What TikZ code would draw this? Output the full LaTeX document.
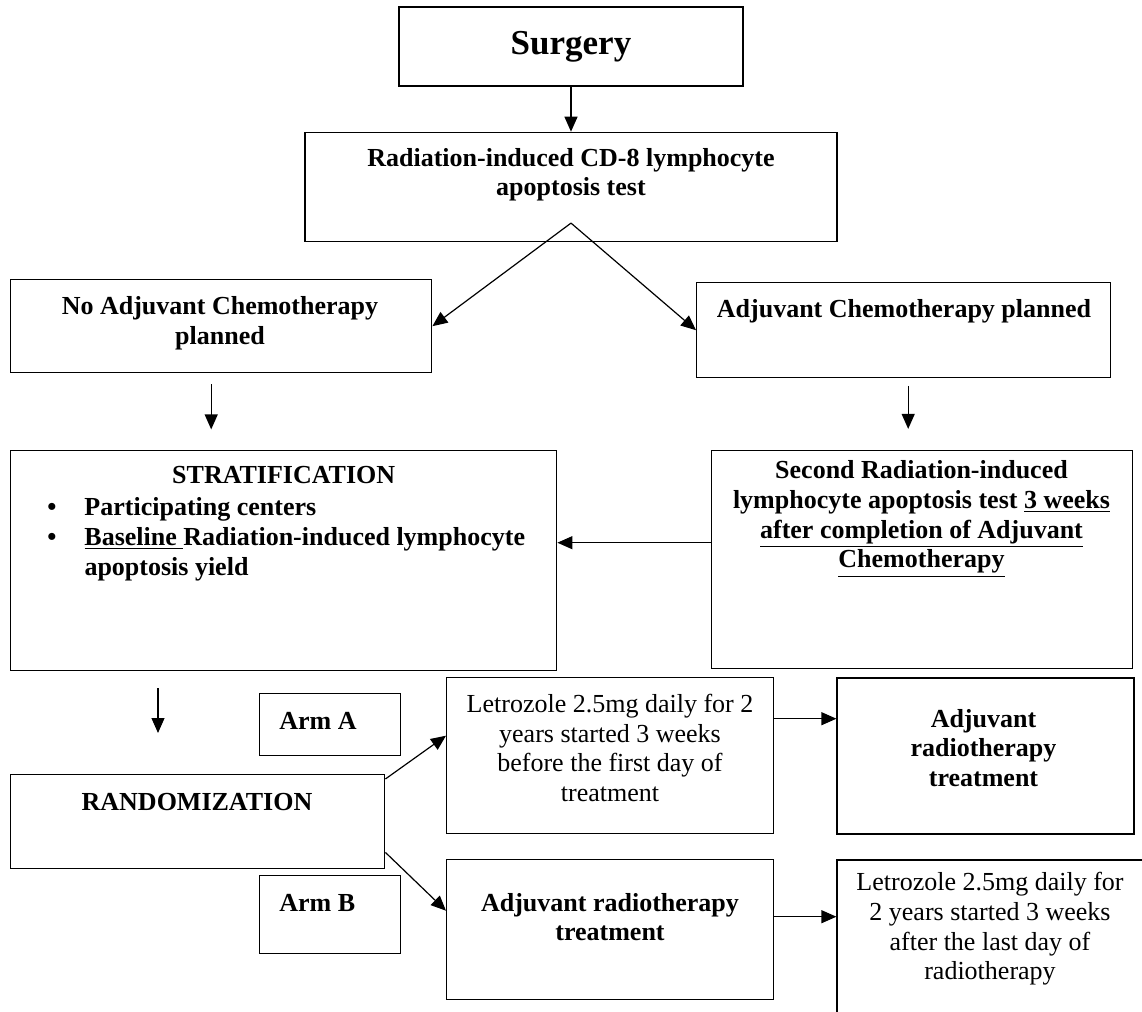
\documentclass[tikz,border=0pt]{standalone}
\usepackage{fontspec}
\setmainfont{Liberation Serif}
\usetikzlibrary{calc,arrows.meta,positioning}

\tikzset{
  box/.style={draw,line width=0.7pt,inner sep=0pt},
  thickbox/.style={box,line width=0.9pt},
  txt/.style={align=center,inner sep=0pt,font=\fontsize{13}{14.8}\selectfont\bfseries},
  plaintxt/.style={align=center,inner sep=0pt,font=\fontsize{13}{14.8}\selectfont},
  flow/.style={-{Triangle[length=7.5pt,width=6.5pt]},line width=0.6pt}
}

\begin{document}
\begin{tikzpicture}[x=0.5pt,y=-0.5pt]
  \useasboundingbox (0,0) rectangle (1142,1012);
  \clip (0,0) rectangle (1142,1012);

  % Surgery and first test
  \path (571,46.5) node[box,minimum width=172pt,minimum height=39.5pt,font=\fontsize{17.5}{20}\selectfont\bfseries] (surgery) {Surgery};
  \path (surgery.south) +(0,45) node[anchor=north,box,minimum width=266pt,minimum height=54.5pt] (test) {};
  \node[txt] (test-text) at ($(test.north)+(0,43)$) {Radiation-induced CD-8 lymphocyte\\apoptosis test};
  \coordinate (split) at ($(test.south)+(0,-19)$);
  \draw[flow] (surgery) -- (test);

  % Chemotherapy branches
  \path (10,279) node[anchor=north west,box,minimum width=210.5pt,minimum height=46.5pt] (no-chemo) {};
  \node[txt] (no-chemo-text) at (220,323) {No Adjuvant Chemotherapy\\planned};
  \path (696,282) node[anchor=north west,box,minimum width=207pt,minimum height=47.5pt] (chemo) {};
  \node[txt] (chemo-text) at (904,311) {Adjuvant Chemotherapy planned};
  \draw[flow] (split) -- (no-chemo.east);
  \draw[flow] (split) -- (chemo.west);

  % Stratification
  \path (10,450) node[anchor=north west,box,minimum width=273pt,minimum height=110pt] (strat) {};
  \node[txt] (strat-title) at ($(strat.north)+(0,25)$) {STRATIFICATION};
  \node[anchor=base west,inner sep=0pt,font=\fontsize{13}{15}\selectfont\bfseries] (strat-list) at (47,515) {%
    \begin{tabular}[t]{@{}l@{\hspace{14pt}}l@{}}
      \textbullet & Participating centers\\
      \textbullet & \underline{Baseline~}Radiation-induced lymphocyte\\
                  & apoptosis yield
    \end{tabular}};
  \path (711,450) node[anchor=north west,box,minimum width=210.5pt,minimum height=109pt] (second) {};
  \node[txt] (second-text) at (921.5,519) {Second Radiation-induced\\lymphocyte apoptosis test \underline{3 weeks}\\\underline{after completion of Adjuvant}\\\underline{Chemotherapy}};

  \coordinate (no-chemo-out) at ($(no-chemo.south)+(-10,11)$);
  \coordinate (strat-in) at ($(no-chemo.south)+(-10,56)$);
  \coordinate (chemo-out) at ($(chemo.south)+(4.5,7.5)$);
  \coordinate (second-in) at ($(chemo.south)+(4.5,50.5)$);
  \draw[flow] (no-chemo-out) -- (strat-in);
  \draw[flow] (chemo-out) -- (second-in);
  \draw[flow] ($(second.west)+(0,-17)$) coordinate (second-out) -- (second-out -| strat.east);

  % Randomization
  \path (10,774) node[anchor=north west,box,minimum width=187pt,minimum height=47pt] (rand) {};
  \node[txt] (rand-text) at (197,802) {RANDOMIZATION};
  \coordinate (strat-out) at ($(strat.south west)+(148,17)$);
  \coordinate (rand-in) at ($(rand.north west)+(148,-41)$);
  \draw[flow] (strat-out) -- (rand-in);

  \path (259,693) node[anchor=north west,box,minimum width=70.5pt,minimum height=31pt] (arm-a) {};
  \node[txt,anchor=west] (arm-a-text) at ($(arm-a.west)+(20,-4)$) {Arm A};
  \path (259,875) node[anchor=north west,box,minimum width=70.5pt,minimum height=39pt] (arm-b) {};
  \node[txt,anchor=west] (arm-b-text) at ($(arm-b.west)+(20,-12)$) {Arm B};

  % Arm A
  \path (446,677) node[anchor=north west,box,minimum width=163.5pt,minimum height=78pt] (letrozole-a) {};
  \node[plaintxt] (letrozole-a-text) at (610,748) {Letrozole 2.5mg daily for 2\\years started 3 weeks\\before the first day of\\treatment};
  \path (letrozole-a.north east) +(62,0) node[anchor=north west,thickbox,minimum width=148.5pt,minimum height=78pt] (radio-a) {};
  \node[txt] (radio-a-text) at (983.5,748) {Adjuvant\\radiotherapy\\treatment};
  \draw[flow] ($(letrozole-a.east)+(0,-37)$) coordinate (a-out) -- (a-out -| radio-a.west);

  % Arm B
  \path (446,859) node[anchor=north west,box,minimum width=163.5pt,minimum height=70pt] (radio-b) {};
  \node[txt] (radio-b-text) at (610,917) {Adjuvant radiotherapy\\treatment};
  \path (radio-b.north east) +(62,0) node[anchor=north west,thickbox,minimum width=200pt,minimum height=120pt] (letrozole-b) {};
  \node[plaintxt] (letrozole-b-text) at (990,929) {Letrozole 2.5mg daily for\\2 years started 3 weeks\\after the last day of\\radiotherapy};
  \draw[flow] ($(radio-b.east)+(0,-13)$) coordinate (b-out) -- (b-out -| letrozole-b.west);

  \draw[flow] ($(rand.north east)+(0,5)$) -- ($(letrozole-a.west)+(0,-20)$);
  \draw[flow] ($(rand.south east)+(0,-17)$) -- ($(radio-b.west)+(0,-19)$);

\end{tikzpicture}
\end{document}
